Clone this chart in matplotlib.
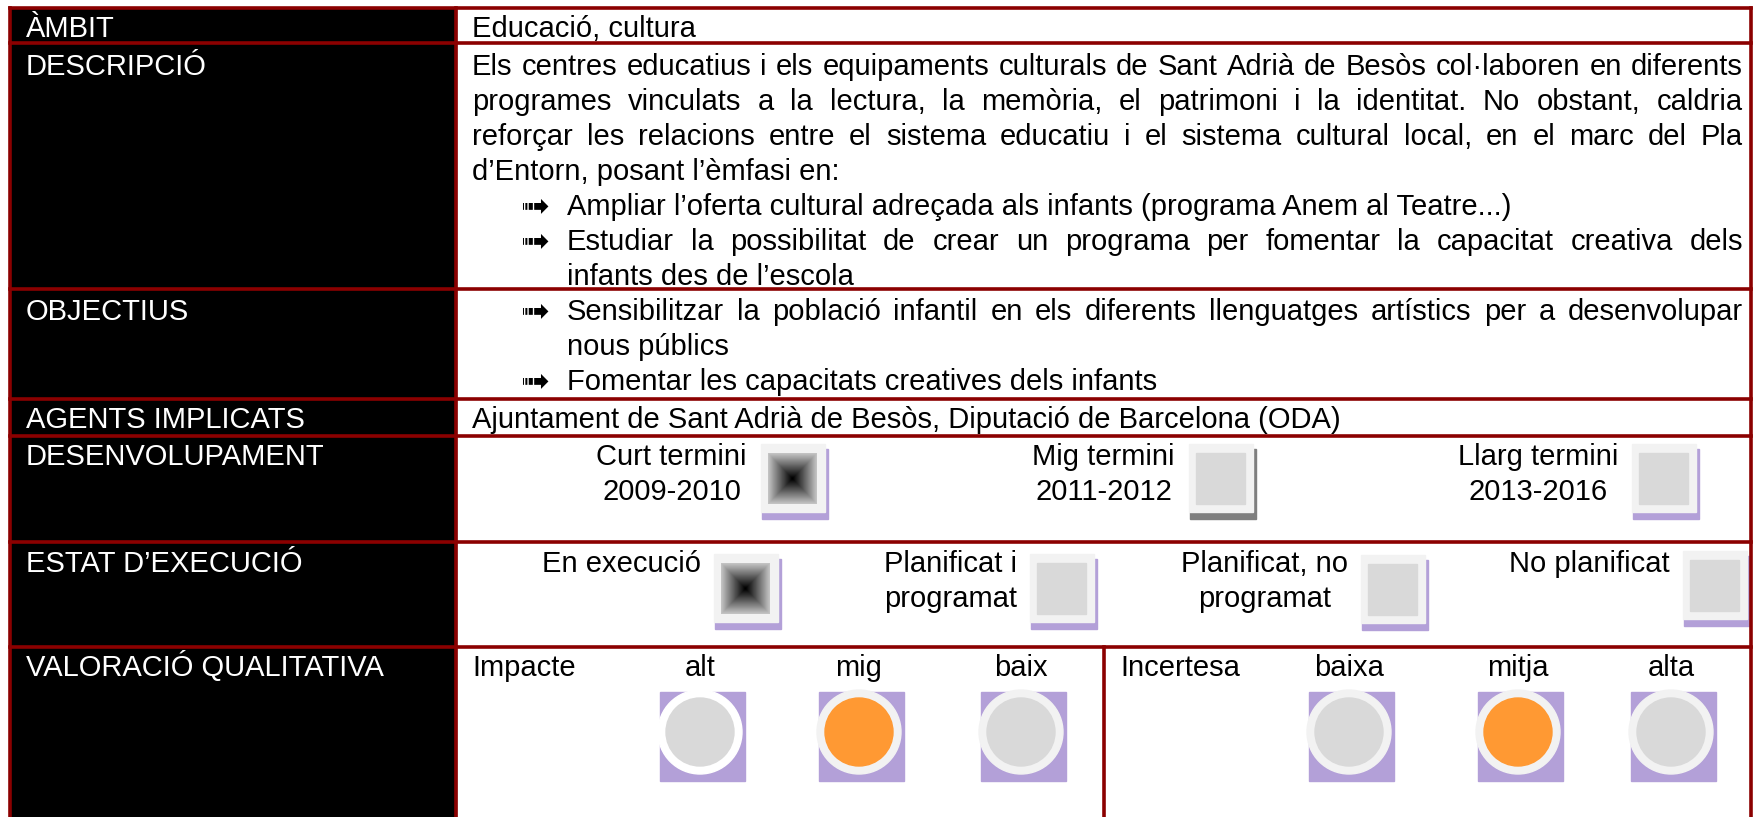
import numpy as np
import matplotlib
matplotlib.use("Agg")
import matplotlib.pyplot as plt
from matplotlib.patches import Rectangle, Circle
from matplotlib.colors import LinearSegmentedColormap

plt.rcParams["font.family"] = ["Liberation Sans", "DejaVu Sans"]

# ---- contingut de la fitxa ----
row_labels = ["ÀMBIT", "DESCRIPCIÓ", "OBJECTIUS", "AGENTS IMPLICATS",
              "DESENVOLUPAMENT", "ESTAT D’EXECUCIÓ", "VALORACIÓ QUALITATIVA"]
ambit = "Educació, cultura"
descripcio = [
    "Els centres educatius i els equipaments culturals de Sant Adrià de Besòs col·laboren en diferents",
    "programes vinculats a la lectura, la memòria, el patrimoni i la identitat. No obstant, caldria",
    "reforçar les relacions entre el sistema educatiu i el sistema cultural local, en el marc del Pla",
    "d’Entorn, posant l’èmfasi en:",
]
descripcio_punts = [
    ["Ampliar l’oferta cultural adreçada als infants (programa Anem al Teatre...)"],
    ["Estudiar la possibilitat de crear un programa per fomentar la capacitat creativa dels",
     "infants des de l’escola"],
]
objectius = [
    ["Sensibilitzar la població infantil en els diferents llenguatges artístics per a desenvolupar",
     "nous públics"],
    ["Fomentar les capacitats creatives dels infants"],
]
agents = "Ajuntament de Sant Adrià de Besòs, Diputació de Barcelona (ODA)"
terminis = [["Curt termini", "2009-2010"], ["Mig termini", "2011-2012"],
            ["Llarg termini", "2013-2016"]]
termini_actiu = [True, False, False]
estats = [["En execució"], ["Planificat i", "programat"],
          ["Planificat, no", "programat"], ["No planificat"]]
estat_actiu = [True, False, False, False]
impacte = ["alt", "mig", "baix"]
impacte_sel = 1
incertesa = ["baixa", "mitja", "alta"]
incertesa_sel = 1

# ---- disseny ----
W, H = 1754, 817
fig = plt.figure(figsize=(W / 100, H / 100), dpi=100)
ax = fig.add_axes([0, 0, 1, 1])
ax.set_xlim(0, W)
ax.set_ylim(H, 0)
ax.axis("off")
rend = fig.canvas.get_renderer()

red = "#8b0000"
purple = "#b3a0d8"
fs = 21
x_left, x_mid, x_right, x_split = 10, 456, 1751, 1104
rows = [8, 43, 289, 399, 436, 542, 647]
first_line = [27, 65, 310, 418, 455, 562, 666]
step = 35
tx0, tx1 = 472, 1743
bx, btx = 520, 567

ax.add_patch(Rectangle((x_left, rows[0]), x_mid - x_left, H - rows[0],
                       color="black", zorder=1))


def put(x, yc, s, **kw):
    kw.setdefault("color", "black")
    return ax.text(x, yc + 10, s, fontsize=fs, va="baseline", zorder=5, **kw)


def line(x0, x1, yc, s, justify):
    if not justify:
        put(x0, yc, s)
        return
    words = s.split()
    arts = [put(0, yc, w) for w in words]
    ws = [a.get_window_extent(renderer=rend).width for a in arts]
    gap = (x1 - x0 - sum(ws)) / (len(ws) - 1)
    x = x0
    for a, w in zip(arts, ws):
        a.set_x(x)
        x += w + gap


def arrow(yc):
    ax.text(bx, yc + 11, "➟", fontsize=25, va="baseline",
            family=["DejaVu Sans"], zorder=5)


def block(right, yc, lines_):
    ws = [put(0, 0, s).get_window_extent(renderer=rend).width for s in lines_]
    for t in ax.texts[-len(lines_):]:
        t.remove()
    cx = right - max(ws) / 2
    for i, s in enumerate(lines_):
        put(cx, yc + i * step, s, ha="center")


grad = LinearSegmentedColormap.from_list("g", ["#000000", "#c4c4c4"])
gx = np.linspace(-1, 1, 60)
pyr = np.maximum(np.abs(gx)[None, :], np.abs(gx)[:, None])


def checkbox(x, y, on, shadow):
    ax.add_patch(Rectangle((x + 1, y + 5), 66, 70, color=shadow, zorder=2))
    ax.add_patch(Rectangle((x, y), 64, 68, color="#f2f2f2", zorder=3))
    if on:
        ax.imshow(pyr, cmap=grad, extent=(x + 7, x + 56, y + 60, y + 9),
                  aspect="auto", zorder=4, interpolation="bilinear")
    else:
        ax.add_patch(Rectangle((x + 7, y + 9), 49, 51, color="#d9d9d9", zorder=4))


def bullet_point(cx, cy, sel, ring):
    ax.add_patch(Rectangle((cx - 40, cy - 40), 85, 89, color=purple, zorder=2))
    ax.add_patch(Circle((cx, cy), 42, color=ring, zorder=3))
    ax.add_patch(Circle((cx, cy), 34, color="#ff9933" if sel else "#d9d9d9", zorder=4))


# etiquetes de fila
for lab, yc in zip(row_labels, first_line):
    put(26, yc, lab, color="white")

# àmbit
put(tx0, first_line[0], ambit)

# descripció
y = first_line[1]
for i, s in enumerate(descripcio):
    line(tx0, tx1, y, s, i < len(descripcio) - 1)
    y += step
for punt in descripcio_punts:
    arrow(y)
    for i, s in enumerate(punt):
        line(btx, tx1, y, s, i < len(punt) - 1)
        y += step

# objectius
y = first_line[2]
for punt in objectius:
    arrow(y)
    for i, s in enumerate(punt):
        line(btx, tx1, y, s, i < len(punt) - 1)
        y += step

# agents
put(tx0, first_line[3], agents)

# desenvolupament
termini_x = [761, 1189, 1632]
termini_shadow = [purple, "#7f7f7f", purple]
for txt, on, x, sh in zip(terminis, termini_actiu, termini_x, termini_shadow):
    block(x - 14, first_line[4], txt)
    checkbox(x, 444, on, sh)

# estat d'execució
estat_x = [714, 1030, 1361, 1683]
estat_y = [554, 554, 555, 551]
for txt, on, x, yb in zip(estats, estat_actiu, estat_x, estat_y):
    block(x - 13, first_line[5], txt)
    checkbox(x, yb, on, purple)

# valoració qualitativa
put(tx0, first_line[6], "Impacte")
put(1120, first_line[6], "Incertesa")
cy = 732
for i, (lab, cx) in enumerate(zip(impacte, [700, 859, 1021])):
    put(cx, first_line[6], lab, ha="center")
    bullet_point(cx, cy, i == impacte_sel, "white" if i == 0 else "#f2f2f2")
for i, (lab, cx) in enumerate(zip(incertesa, [1349, 1518, 1671])):
    put(cx, first_line[6], lab, ha="center")
    bullet_point(cx, cy, i == incertesa_sel, "#f2f2f2")

# vores
blw = 2.6
for yy in rows:
    ax.plot([x_left, x_right], [yy, yy], color=red, lw=blw, zorder=6,
            solid_capstyle="projecting")
for xx in (x_left, x_mid, x_right):
    ax.plot([xx, xx], [rows[0], H + 5], color=red, lw=blw, zorder=6,
            solid_capstyle="projecting")
ax.plot([x_split, x_split], [rows[6], H + 5], color=red, lw=blw, zorder=6)

ax.set_xlim(0, W)
ax.set_ylim(H, 0)
fig.savefig("out.png", dpi=100)
